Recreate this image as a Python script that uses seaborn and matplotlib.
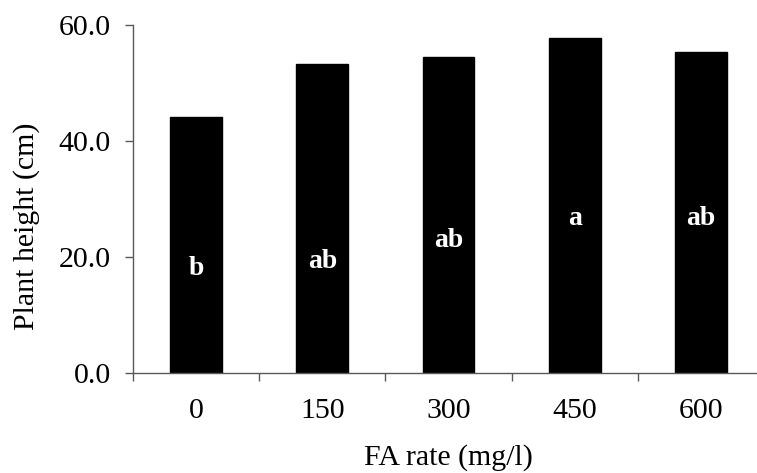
import matplotlib
matplotlib.use("Agg")
import matplotlib.pyplot as plt
import seaborn as sns
import numpy as np
import pandas as pd

rates = ["0", "150", "300", "450", "600"]
heights = [44.1, 53.2, 54.5, 57.8, 55.4]
letters = ["b", "ab", "ab", "a", "ab"]
letter_heights = [18.1, 19.2, 22.9, 26.7, 26.6]

sns.set_theme(style="white")
plt.rcParams["font.family"] = ["Liberation Serif", "DejaVu Serif"]
plt.rcParams["text.color"] = "black"
plt.rcParams["axes.labelcolor"] = "black"

fig = plt.figure(figsize=(7.57, 4.73), dpi=100)
ax = fig.add_axes([0.1757, 0.2114, 0.8336, 0.7357])

df = pd.DataFrame({"rate": rates, "height": heights})
sns.barplot(data=df, x="rate", y="height", color="black", saturation=1,
            width=0.41, edgecolor="black", ax=ax)

for i, (lab, ly) in enumerate(zip(letters, letter_heights)):
    ax.text(i, ly, lab, color="white", fontweight="bold", fontsize=20,
            ha="center", va="center")

ax.set_ylim(0, 60)
ax.set_xlim(-0.5, 4.5)
ax.set_yticks([0, 20, 40, 60])
ax.set_yticklabels([f"{v:.1f}" for v in [0, 20, 40, 60]])

spine_color = "#595959"
for s in ["top", "right"]:
    ax.spines[s].set_visible(False)
for s in ["left", "bottom"]:
    ax.spines[s].set_color(spine_color)
    ax.spines[s].set_linewidth(1.0)

fs = 21.5
# category labels at centers (no tick marks), tick marks at boundaries
ax.set_xticks(range(len(rates)))
ax.set_xticklabels(rates)
ax.tick_params(axis="x", which="major", length=0, pad=18, labelsize=fs,
               colors="black")
ax.set_xticks(np.arange(-0.5, len(rates), 1.0), minor=True)
ax.tick_params(axis="x", which="minor", length=6, width=1, color=spine_color,
               direction="out", bottom=True)
ax.tick_params(axis="y", which="major", length=6, width=1, color=spine_color,
               direction="out", left=True, pad=10, labelsize=fs,
               labelcolor="black")

ax.set_xlabel("FA rate (mg/l)", fontsize=fs, color="black")
ax.set_ylabel("Plant height (cm)", fontsize=fs, color="black")
ax.xaxis.set_label_coords(0.5, -0.204)
ax.yaxis.set_label_coords(-0.147, 0.422)

fig.savefig("out.png", dpi=100)
